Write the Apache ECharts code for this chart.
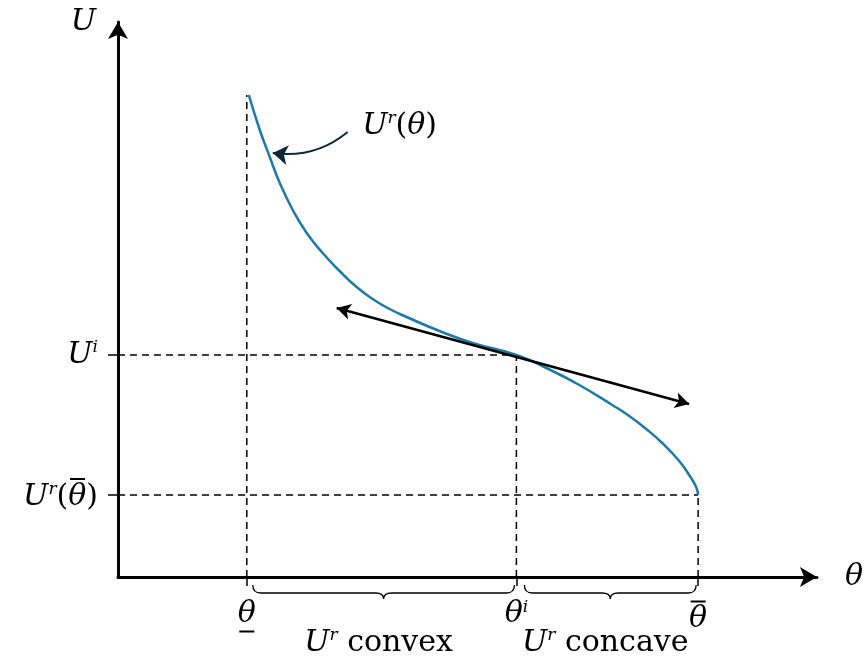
<!DOCTYPE html>
<html>
<head>
<meta charset="utf-8">
<script src="https://cdn.jsdelivr.net/npm/echarts@6/dist/echarts.min.js"></script>
<style>
  html, body { margin: 0; padding: 0; background: #fff; }
  #chart { width: 866px; height: 666px; }
</style>
</head>
<body>
<div id="chart"></div>
<script>
// curve U^r(theta), in axis units
const curveX = [131, 142, 152, 162, 175, 189, 205, 222, 239, 255, 272, 289, 322, 355, 399, 429, 462, 495, 512, 529, 545, 562, 572, 579, 581];
const curveY = [482, 447, 420, 394, 367, 344, 324, 306, 290, 278, 268, 260, 246, 234, 222, 209, 192, 172, 161, 148, 134, 116, 102, 90, 82];

// reference values
const thetaLow = 129;
const thetaI = 399;
const thetaHigh = 581;
const uTop = 482;
const uI = 222;
const uHigh = 82;

const thetaTicks = [thetaLow, thetaI, thetaHigh];
const thetaLabels = ["{t|θ}\n{bar| }", "{t|θ}{sup|i}", "{bar| }\n{t|θ}"];
const uTicks = [uHigh, uI];
const uLabels = ["{bar| }{gap| }\n{u|U}{sup|r}{n|(}{t|θ}{n|)}", "{u|U}{sup|i}"];

// tangent at (thetaI, uI) and the pointer to the curve
const tangentStart = [219, 269];
const tangentEnd = [572, 173];
const pointerFrom = [230, 445];
const pointerTo = [155, 424];
const curveLabelPos = [282, 451];
const curveLabel = "{u|U}{sup|r}{n|(}{t|θ}{n|)}";

// braces below the theta axis
const braceSpans = [[135, 397], [407, 579]];
const braceLabels = ["{u|U}{sup|r}{n| convex}", "{u|U}{sup|r}{n| concave}"];

const FONT = "DejaVu Serif";
const rich = {
  u: { fontFamily: FONT, fontStyle: "italic", fontSize: 30, lineHeight: 32, color: "#000" },
  t: { fontFamily: FONT, fontStyle: "italic", fontSize: 30, lineHeight: 30, color: "#000" },
  n: { fontFamily: FONT, fontStyle: "normal", fontSize: 30, lineHeight: 32, color: "#000" },
  sup: { fontFamily: FONT, fontStyle: "italic", fontSize: 17, lineHeight: 20, verticalAlign: "top", color: "#000" },
  bar: { width: 15, height: 2, lineHeight: 5, backgroundColor: "#000", fontSize: 2 },
  gap: { width: 13, height: 2, lineHeight: 5, fontSize: 2 },
};

const dash = { color: "#000", width: 1.5, type: [7, 5] };
function guide(points) {
  return {
    type: "line", data: points, symbol: "none", silent: true,
    lineStyle: dash, z: 1,
  };
}

let chart = echarts.init(document.getElementById("chart"));
let option = {
  animation: false,
  grid: { left: 118, right: 48, top: 22, bottom: 89 },
  xAxis: {
    type: "value", min: 0, max: 700,
    name: "θ", nameLocation: "end", nameGap: 28,
    nameTextStyle: { fontFamily: FONT, fontStyle: "italic", fontSize: 30, color: "#000", verticalAlign: "middle" },
    axisLine: { lineStyle: { color: "#000", width: 3 }, symbol: ["none", "arrow"], symbolSize: [15, 17] },
    axisTick: { show: true, customValues: thetaTicks, length: 9, lineStyle: { color: "#000", width: 1.5 } },
    axisLabel: {
      show: true, customValues: thetaTicks, margin: 22,
      formatter: (v) => thetaLabels[thetaTicks.indexOf(v)], rich: rich,
    },
    splitLine: { show: false },
  },
  yAxis: {
    type: "value", min: 0, max: 555,
    name: "U", nameLocation: "end", nameGap: 0,
    nameTextStyle: { fontFamily: FONT, fontStyle: "italic", fontSize: 30, color: "#000", align: "right", verticalAlign: "middle", padding: [0, 22, 0, 0] },
    axisLine: { lineStyle: { color: "#000", width: 3 }, symbol: ["none", "arrow"], symbolSize: [15, 17] },
    axisTick: { show: true, customValues: uTicks, length: 10, lineStyle: { color: "#000", width: 1.5 } },
    axisLabel: {
      show: true, customValues: uTicks, margin: 20,
      formatter: (v) => uLabels[uTicks.indexOf(v)], rich: rich,
    },
    splitLine: { show: false },
  },
  series: [
    guide([[thetaLow, 0], [thetaLow, uTop]]),
    guide([[thetaI, 0], [thetaI, uI]]),
    guide([[thetaHigh, 0], [thetaHigh, uHigh]]),
    guide([[0, uI], [thetaI, uI]]),
    guide([[0, uHigh], [thetaHigh, uHigh]]),
    {
      type: "line", symbol: "none", smooth: 0.5, silent: true, z: 3,
      data: curveX.map((x, i) => [x, curveY[i]]),
      lineStyle: { color: "#1b7aa8", width: 2.5 },
      markLine: {
        silent: true, animation: false, label: { show: false },
        symbol: ["arrow", "arrow"], symbolSize: [12, 14],
        lineStyle: { color: "#000", width: 2.5, type: "solid" },
        data: [[{ coord: tangentStart }, { coord: tangentEnd }]],
      },
    },
    {
      // label of the curve
      type: "scatter", symbolSize: 0, silent: true, z: 4,
      itemStyle: { opacity: 1 },
      data: [curveLabelPos],
      label: { show: true, position: "inside", color: "#000", formatter: () => curveLabel, rich: rich },
    },
    {
      // curved pointer from the label to the curve
      type: "lines", coordinateSystem: "cartesian2d", silent: true, z: 4,
      symbol: ["none", "arrow"], symbolSize: [13, 15],
      lineStyle: { color: "#0f2839", width: 2, opacity: 1, curveness: 0.22 },
      data: [{ coords: [pointerFrom, pointerTo] }],
    },
    {
      type: "custom", clip: false, silent: true,
      data: braceSpans,
      renderItem: function (params, api) {
        const a = api.coord([api.value(0), 0]);
        const b = api.coord([api.value(1), 0]);
        const x1 = a[0], x2 = b[0], y0 = a[1];
        const yTop = y0 + 8, yFlat = y0 + 16, yTip = y0 + 22, r = 8;
        const mid = (x1 + x2) / 2;
        const d = "M" + x1 + "," + yTop +
          " Q" + x1 + "," + yFlat + " " + (x1 + r) + "," + yFlat +
          " L" + (mid - r) + "," + yFlat +
          " Q" + mid + "," + yFlat + " " + mid + "," + yTip +
          " Q" + mid + "," + yFlat + " " + (mid + r) + "," + yFlat +
          " L" + (x2 - r) + "," + yFlat +
          " Q" + x2 + "," + yFlat + " " + x2 + "," + yTop;
        return {
          type: "group",
          children: [
            { type: "path", shape: { pathData: d }, style: { fill: null, stroke: "#000", lineWidth: 1.3 } },
            {
              type: "text", x: mid - 5, y: y0 + 66,
              style: { text: braceLabels[params.dataIndex], rich: rich, align: "center", verticalAlign: "middle" },
            },
          ],
        };
      },
    },
  ],
};
window.onresize = chart.resize;
chart.setOption(option);
</script>
</body>
</html>
